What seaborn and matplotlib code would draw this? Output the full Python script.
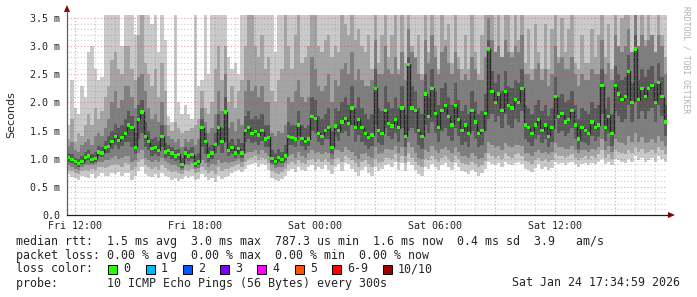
import numpy as np
import pandas as pd
import matplotlib
matplotlib.use("Agg")
import matplotlib.pyplot as plt
from matplotlib.patches import Rectangle, Polygon
import seaborn as sns

# ---------------- data (10-minute samples, Fri 11:35 -> Sat 17:35) ----------------
median = [
    1.02, 0.98, 0.95, 0.92, 0.95, 1.02,
    1.05, 0.98, 1.00, 1.12, 1.10, 1.20,
    1.22, 1.30, 1.40, 1.32, 1.38, 1.45,
    1.60, 1.55, 1.20, 1.70, 1.83, 1.40,
    1.30, 1.18, 1.20, 1.15, 1.40, 1.12,
    1.15, 1.10, 1.05, 1.08, 0.90, 1.10,
    1.05, 1.08, 0.92, 0.95, 1.55, 1.30,
    1.05, 1.10, 1.25, 1.56, 1.30, 1.83,
    1.15, 1.20, 1.10, 1.18, 1.10, 1.50,
    1.55, 1.45, 1.48, 1.42, 1.50, 1.35,
    1.38, 1.00, 0.95, 1.02, 0.98, 1.05,
    1.40, 1.38, 1.35, 1.60, 1.36, 1.30,
    1.35, 1.75, 1.72, 1.45, 1.40, 1.50,
    1.55, 1.20, 1.58, 1.50, 1.65, 1.72,
    1.62, 1.90, 1.55, 1.70, 1.55, 1.45,
    1.38, 1.42, 2.25, 1.50, 1.45, 1.85,
    1.62, 1.58, 1.70, 1.55, 1.90, 1.40,
    2.68, 1.90, 1.85, 1.50, 1.40, 2.15,
    1.75, 2.25, 1.80, 1.55, 1.85, 1.95,
    1.75, 1.60, 1.95, 1.70, 1.50, 1.60,
    1.45, 1.85, 1.65, 1.45, 1.50, 1.80,
    2.95, 2.20, 2.00, 2.15, 1.85, 2.20,
    1.95, 1.90, 2.05, 2.00, 2.25, 1.60,
    1.55, 1.45, 1.60, 1.70, 1.50, 1.60,
    1.40, 1.55, 2.10, 1.75, 1.80, 1.65,
    1.70, 1.85, 1.60, 1.35, 1.55, 1.50,
    1.45, 1.65, 1.55, 1.60, 2.30, 1.55,
    1.75, 1.45, 2.30, 2.15, 2.05, 2.10,
    2.55, 2.00, 2.95, 2.05, 2.25, 2.10,
    2.25, 2.30, 2.00, 2.35, 2.10, 1.65,
]

lo1 = [
    0.72, 0.68, 0.66, 0.62, 0.70, 0.68,
    0.65, 0.72, 0.66, 0.70, 0.74, 0.70,
    0.70, 0.74, 0.72, 0.76, 0.70, 0.74,
    0.75, 0.62, 0.70, 0.78, 0.85, 0.72,
    0.70, 0.68, 0.72, 0.66, 0.74, 0.70,
    0.68, 0.62, 0.66, 0.60, 0.64, 0.70,
    0.66, 0.70, 0.62, 0.64, 0.72, 0.68,
    0.62, 0.66, 0.58, 0.70, 0.64, 0.68,
    0.70, 0.74, 0.78, 0.80, 0.76, 0.82,
    0.88, 0.90, 0.92, 0.86, 0.90, 0.88,
    0.80, 0.65, 0.62, 0.60, 0.64, 0.70,
    0.78, 0.82, 0.76, 0.85, 0.80, 0.78,
    0.85, 0.88, 0.80, 0.86, 0.82, 0.88,
    0.80, 0.72, 0.85, 0.90, 0.78, 0.92,
    0.90, 0.82, 0.76, 0.70, 0.80, 0.85,
    0.75, 0.70, 0.85, 0.78, 0.82, 0.88,
    0.90, 0.85, 0.95, 0.80, 0.92, 0.78,
    0.95, 0.88, 0.80, 0.72, 0.70, 0.85,
    0.82, 0.90, 0.86, 0.80, 0.88, 0.92,
    0.85, 0.80, 0.92, 0.85, 0.78, 0.76,
    0.72, 0.80, 0.76, 0.70, 0.74, 0.82,
    0.95, 0.90, 0.88, 0.92, 0.85, 0.95,
    0.90, 0.88, 0.92, 0.95, 0.90, 0.82,
    0.80, 0.76, 0.84, 0.90, 0.82, 0.86,
    0.80, 0.84, 0.95, 0.90, 0.92, 0.88,
    0.92, 0.95, 0.90, 0.85, 0.90, 0.92,
    0.88, 0.92, 0.90, 0.95, 1.00, 0.90,
    0.95, 0.88, 1.00, 0.98, 0.95, 0.92,
    1.00, 0.95, 1.05, 0.98, 1.02, 0.95,
    0.98, 1.02, 0.95, 1.05, 1.00, 0.95,
]

lo2 = [
    0.80, 0.78, 0.75, 0.72, 0.78, 0.80,
    0.78, 0.82, 0.80, 0.85, 0.86, 0.84,
    0.85, 0.88, 0.90, 0.88, 0.86, 0.92,
    0.90, 0.80, 0.85, 0.95, 1.00, 0.88,
    0.85, 0.82, 0.85, 0.80, 0.88, 0.84,
    0.80, 0.76, 0.78, 0.74, 0.72, 0.80,
    0.78, 0.82, 0.74, 0.76, 0.85, 0.80,
    0.75, 0.78, 0.72, 0.85, 0.78, 0.82,
    0.82, 0.85, 0.88, 0.90, 0.86, 0.95,
    1.00, 1.02, 1.05, 0.98, 1.02, 1.00,
    0.92, 0.78, 0.74, 0.72, 0.76, 0.82,
    0.90, 0.95, 0.90, 0.98, 0.92, 0.90,
    0.98, 1.00, 0.95, 1.00, 0.95, 1.00,
    0.95, 0.88, 1.00, 1.02, 0.95, 1.05,
    1.02, 0.98, 0.92, 0.86, 0.95, 0.98,
    0.90, 0.86, 1.00, 0.92, 0.95, 1.02,
    1.02, 1.00, 1.08, 0.95, 1.05, 0.92,
    1.10, 1.02, 0.95, 0.88, 0.85, 1.00,
    0.98, 1.05, 1.00, 0.95, 1.02, 1.05,
    1.00, 0.95, 1.05, 1.00, 0.92, 0.90,
    0.88, 0.95, 0.90, 0.85, 0.88, 0.96,
    1.10, 1.05, 1.02, 1.05, 1.00, 1.10,
    1.05, 1.02, 1.08, 1.10, 1.05, 0.96,
    0.95, 0.90, 0.98, 1.02, 0.96, 1.00,
    0.95, 0.98, 1.10, 1.05, 1.05, 1.02,
    1.05, 1.08, 1.02, 0.98, 1.02, 1.05,
    1.00, 1.05, 1.02, 1.08, 1.15, 1.02,
    1.08, 1.00, 1.15, 1.12, 1.10, 1.08,
    1.15, 1.10, 1.20, 1.12, 1.18, 1.10,
    1.12, 1.15, 1.10, 1.20, 1.15, 1.08,
]

lo3 = [
    0.88, 0.85, 0.82, 0.80, 0.85, 0.88,
    0.88, 0.88, 0.90, 0.95, 0.95, 0.98,
    0.98, 1.02, 1.05, 1.00, 1.02, 1.05,
    1.05, 0.95, 0.98, 1.10, 1.15, 1.02,
    0.98, 0.95, 0.98, 0.95, 1.02, 0.96,
    0.92, 0.88, 0.88, 0.86, 0.80, 0.90,
    0.88, 0.92, 0.82, 0.84, 0.98, 0.92,
    0.85, 0.90, 0.88, 0.98, 0.92, 0.95,
    0.92, 0.95, 0.96, 1.00, 0.95, 1.10,
    1.12, 1.12, 1.15, 1.08, 1.15, 1.10,
    1.05, 0.88, 0.84, 0.85, 0.86, 0.92,
    1.05, 1.08, 1.02, 1.12, 1.05, 1.02,
    1.10, 1.15, 1.10, 1.12, 1.08, 1.12,
    1.10, 1.00, 1.15, 1.15, 1.12, 1.20,
    1.15, 1.12, 1.05, 1.00, 1.08, 1.10,
    1.05, 1.02, 1.20, 1.08, 1.10, 1.18,
    1.18, 1.15, 1.22, 1.10, 1.20, 1.05,
    1.30, 1.20, 1.10, 1.02, 1.00, 1.15,
    1.12, 1.22, 1.15, 1.10, 1.18, 1.20,
    1.15, 1.10, 1.20, 1.12, 1.05, 1.05,
    1.02, 1.10, 1.05, 1.00, 1.02, 1.10,
    1.30, 1.25, 1.20, 1.22, 1.15, 1.28,
    1.22, 1.20, 1.25, 1.25, 1.22, 1.10,
    1.10, 1.05, 1.12, 1.15, 1.10, 1.12,
    1.08, 1.12, 1.28, 1.20, 1.20, 1.18,
    1.18, 1.22, 1.15, 1.10, 1.15, 1.15,
    1.12, 1.18, 1.15, 1.20, 1.35, 1.15,
    1.22, 1.12, 1.35, 1.30, 1.28, 1.25,
    1.40, 1.30, 1.45, 1.30, 1.38, 1.28,
    1.30, 1.35, 1.28, 1.40, 1.32, 1.22,
]

lo4 = [
    0.95, 0.92, 0.88, 0.86, 0.90, 0.96,
    0.98, 0.93, 0.95, 1.04, 1.03, 1.10,
    1.10, 1.18, 1.25, 1.18, 1.22, 1.30,
    1.30, 1.20, 1.08, 1.35, 1.45, 1.20,
    1.15, 1.05, 1.08, 1.05, 1.20, 1.02,
    1.05, 1.00, 0.96, 0.98, 0.84, 1.00,
    0.96, 1.00, 0.86, 0.88, 1.20, 1.08,
    0.95, 1.00, 1.10, 1.25, 1.10, 1.30,
    1.05, 1.08, 1.02, 1.08, 1.02, 1.30,
    1.35, 1.28, 1.30, 1.25, 1.32, 1.20,
    1.20, 0.93, 0.88, 0.94, 0.92, 0.98,
    1.25, 1.25, 1.20, 1.40, 1.22, 1.15,
    1.22, 1.50, 1.45, 1.30, 1.25, 1.35,
    1.35, 1.08, 1.38, 1.32, 1.45, 1.50,
    1.40, 1.60, 1.30, 1.42, 1.30, 1.25,
    1.18, 1.22, 1.60, 1.28, 1.25, 1.55,
    1.40, 1.35, 1.45, 1.30, 1.55, 1.20,
    1.50, 1.55, 1.45, 1.25, 1.18, 1.60,
    1.45, 1.65, 1.45, 1.30, 1.50, 1.55,
    1.40, 1.32, 1.55, 1.40, 1.25, 1.30,
    1.20, 1.50, 1.35, 1.20, 1.25, 1.50,
    1.70, 1.80, 1.65, 1.75, 1.55, 1.80,
    1.60, 1.55, 1.70, 1.65, 1.85, 1.35,
    1.30, 1.22, 1.35, 1.42, 1.28, 1.35,
    1.20, 1.30, 1.70, 1.45, 1.50, 1.40,
    1.45, 1.55, 1.35, 1.18, 1.30, 1.28,
    1.25, 1.40, 1.32, 1.38, 1.80, 1.32,
    1.45, 1.22, 1.85, 1.75, 1.65, 1.70,
    1.95, 1.65, 2.00, 1.70, 1.85, 1.70,
    1.85, 1.90, 1.65, 1.95, 1.75, 1.40,
]

hi4 = [
    1.10, 1.08, 1.02, 1.00, 1.05, 1.12,
    1.15, 1.08, 1.12, 1.22, 1.20, 1.32,
    1.40, 1.50, 1.62, 1.55, 1.60, 1.70,
    1.85, 1.75, 1.45, 1.95, 2.05, 1.65,
    1.50, 1.35, 1.38, 1.32, 1.60, 1.28,
    1.25, 1.20, 1.15, 1.18, 1.02, 1.20,
    1.15, 1.20, 1.05, 1.10, 1.70, 1.45,
    1.20, 1.25, 1.45, 1.80, 1.55, 2.10,
    1.30, 1.35, 1.25, 1.35, 1.28, 1.75,
    1.85, 1.70, 1.75, 1.70, 1.80, 1.60,
    1.60, 1.15, 1.10, 1.18, 1.12, 1.25,
    1.65, 1.60, 1.60, 1.85, 1.60, 1.55,
    1.60, 2.10, 2.05, 1.75, 1.70, 1.80,
    1.90, 1.50, 1.90, 1.85, 2.00, 2.10,
    1.95, 2.30, 1.90, 2.10, 1.90, 1.80,
    1.70, 1.80, 2.60, 1.90, 1.85, 2.30,
    2.00, 1.90, 2.10, 1.90, 2.30, 1.80,
    2.80, 2.30, 2.20, 1.90, 1.80, 2.50,
    2.10, 2.60, 2.20, 1.95, 2.25, 2.35,
    2.10, 1.95, 2.35, 2.05, 1.85, 1.95,
    1.80, 2.20, 2.00, 1.80, 1.85, 2.15,
    3.10, 2.55, 2.35, 2.50, 2.20, 2.55,
    2.30, 2.25, 2.40, 2.35, 2.60, 1.95,
    1.90, 1.80, 1.95, 2.05, 1.85, 1.95,
    1.75, 1.90, 2.45, 2.10, 2.15, 2.00,
    2.05, 2.20, 1.95, 1.70, 1.90, 1.85,
    1.80, 2.00, 1.90, 1.95, 2.60, 1.90,
    2.10, 1.80, 2.65, 2.50, 2.40, 2.45,
    2.85, 2.35, 3.20, 2.40, 2.60, 2.45,
    2.60, 2.65, 2.35, 2.70, 2.45, 1.95,
]

hi3 = [
    1.22, 1.30, 1.15, 1.12, 1.25, 1.30,
    1.35, 1.25, 1.40, 1.45, 1.40, 1.55,
    1.70, 2.00, 2.20, 1.90, 2.05, 2.30,
    2.30, 2.10, 1.90, 2.45, 2.50, 2.20,
    1.90, 1.70, 1.80, 1.65, 2.00, 1.60,
    1.40, 1.35, 1.30, 1.35, 1.20, 1.35,
    1.30, 1.35, 1.25, 1.35, 1.90, 1.65,
    1.45, 1.55, 1.80, 2.20, 1.85, 2.50,
    1.55, 1.65, 1.50, 1.70, 1.60, 2.20,
    2.40, 2.20, 2.30, 2.10, 2.30, 2.00,
    2.00, 1.45, 1.40, 1.50, 1.45, 1.60,
    2.10, 2.00, 2.20, 2.40, 2.10, 2.00,
    2.10, 2.80, 2.60, 2.30, 2.20, 2.30,
    2.50, 2.00, 2.40, 2.30, 2.60, 2.70,
    2.50, 2.90, 2.40, 2.60, 2.40, 2.30,
    2.30, 2.40, 3.10, 2.50, 2.50, 3.00,
    2.60, 2.50, 2.80, 2.50, 2.90, 2.40,
    3.30, 2.90, 2.80, 2.50, 2.40, 3.10,
    2.70, 3.20, 2.80, 2.50, 2.90, 3.00,
    2.70, 2.50, 2.90, 2.60, 2.40, 2.50,
    2.40, 2.80, 2.60, 2.40, 2.40, 2.80,
    3.50, 3.10, 2.90, 3.00, 2.80, 3.10,
    2.90, 2.80, 3.00, 2.90, 3.20, 2.50,
    2.50, 2.40, 2.60, 2.70, 2.40, 2.60,
    2.30, 2.50, 3.00, 2.70, 2.80, 2.60,
    2.60, 2.80, 2.50, 2.30, 2.50, 2.40,
    2.40, 2.60, 2.50, 2.50, 3.10, 2.50,
    2.70, 2.40, 3.20, 3.00, 2.90, 3.00,
    3.30, 2.90, 3.60, 3.00, 3.20, 3.00,
    3.10, 3.20, 2.90, 3.20, 3.00, 2.50,
]

hi2 = [
    1.35, 1.70, 1.30, 1.45, 1.40, 1.60,
    1.80, 1.60, 1.90, 1.70, 1.85, 2.10,
    2.30, 2.75, 2.90, 2.60, 2.50, 3.00,
    3.00, 2.60, 2.40, 3.20, 3.60, 2.70,
    2.50, 2.30, 2.60, 2.10, 2.70, 2.20,
    1.60, 1.50, 1.65, 1.55, 1.45, 1.50,
    1.50, 1.55, 1.60, 1.70, 2.20, 1.90,
    1.80, 2.00, 2.60, 3.00, 2.40, 3.00,
    2.00, 2.30, 1.90, 2.20, 2.40, 3.00,
    3.60, 3.60, 3.00, 2.80, 3.20, 2.60,
    2.80, 2.20, 2.00, 2.40, 2.60, 3.60,
    3.00, 2.60, 3.20, 3.60, 2.70, 2.80,
    3.00, 3.60, 3.60, 3.00, 2.90, 3.10,
    3.20, 2.80, 3.00, 2.90, 3.60, 3.40,
    3.20, 3.60, 3.10, 3.30, 3.00, 2.90,
    3.20, 2.60, 3.60, 2.70, 3.20, 3.60,
    2.80, 3.20, 3.60, 2.60, 3.60, 2.70,
    3.60, 3.00, 2.80, 3.20, 2.50, 3.60,
    2.90, 3.60, 3.00, 2.60, 3.60, 3.10,
    3.40, 2.70, 3.60, 2.80, 2.60, 3.20,
    2.60, 3.60, 2.90, 2.50, 3.20, 3.60,
    3.60, 3.60, 2.90, 3.60, 2.80, 3.60,
    3.60, 2.90, 3.60, 3.10, 3.60, 2.70,
    3.30, 2.60, 3.40, 2.90, 2.60, 3.40,
    2.60, 3.30, 3.60, 2.80, 3.50, 2.90,
    3.30, 3.60, 2.70, 2.60, 3.20, 2.70,
    2.70, 3.30, 2.80, 3.20, 3.60, 2.80,
    3.40, 2.60, 3.60, 3.00, 3.50, 3.60,
    3.60, 2.90, 3.60, 3.00, 3.60, 3.10,
    3.60, 3.00, 2.90, 3.60, 3.20, 2.80,
]

hi1 = [
    1.60, 2.40, 1.90, 1.80, 2.30, 2.10,
    2.90, 3.00, 2.60, 2.40, 2.45, 3.60,
    3.60, 3.60, 3.60, 3.60, 3.00, 3.60,
    3.60, 3.60, 3.20, 3.60, 3.60, 3.60,
    3.60, 3.40, 3.60, 2.90, 3.60, 3.10,
    1.75, 1.65, 3.60, 2.00, 1.80, 1.95,
    1.80, 1.70, 3.60, 2.30, 2.40, 3.60,
    2.50, 3.60, 3.60, 3.60, 3.60, 3.60,
    2.80, 2.60, 2.70, 2.50, 3.60, 3.60,
    3.60, 3.60, 3.60, 3.60, 3.60, 3.60,
    3.60, 3.60, 2.90, 3.60, 3.60, 3.60,
    3.60, 3.60, 3.60, 3.60, 3.60, 3.60,
    3.60, 3.60, 3.60, 3.60, 3.60, 3.60,
    3.60, 3.60, 3.60, 3.60, 3.60, 3.60,
    3.60, 3.60, 3.60, 3.60, 3.60, 3.60,
    3.60, 3.60, 3.60, 3.60, 3.60, 3.60,
    3.60, 3.60, 3.60, 3.60, 3.60, 3.60,
    3.60, 3.60, 3.60, 3.60, 3.60, 3.60,
    3.60, 3.60, 3.60, 3.60, 3.60, 3.60,
    3.60, 3.60, 3.60, 3.60, 3.60, 3.60,
    3.60, 3.60, 3.60, 3.60, 3.60, 3.60,
    3.60, 3.60, 3.60, 3.60, 3.60, 3.60,
    3.60, 3.60, 3.60, 3.60, 3.60, 3.60,
    3.60, 3.60, 3.60, 3.60, 3.60, 3.60,
    3.60, 3.60, 3.60, 3.60, 3.60, 3.60,
    3.60, 3.60, 3.60, 3.60, 3.60, 3.60,
    3.60, 3.60, 3.60, 3.60, 3.60, 3.60,
    3.60, 3.60, 3.60, 3.60, 3.60, 3.60,
    3.60, 3.60, 3.60, 3.60, 3.60, 3.60,
    3.60, 3.60, 3.60, 3.60, 3.60, 3.60,
]

tick_labels = ["Fri 12:00", "Fri 18:00", "Sat 00:00", "Sat 06:00", "Sat 12:00"]
ytick_values = [0.0, 0.5, 1.0, 1.5, 2.0, 2.5, 3.0, 3.5]
ytick_labels = ["0.0", "0.5 m", "1.0 m", "1.5 m", "2.0 m", "2.5 m", "3.0 m", "3.5 m"]

loss_labels = ["0", "1", "2", "3", "4", "5", "6-9", "10/10"]
loss_colors = ["#26ff00", "#00b8ff", "#0059ff", "#7e00ff", "#ff00ff", "#ff5500", "#ff0000", "#a10000"]

stats_line = "median rtt:  1.5 ms avg  3.0 ms max  787.3 us min  1.6 ms now  0.4 ms sd  3.9   am/s"
loss_line = "packet loss: 0.00 % avg  0.00 % max  0.00 % min  0.00 % now"
probe_line = "probe:       10 ICMP Echo Pings (56 Bytes) every 300s"
date_text = "Sat Jan 24 17:34:59 2026"

# ---------------- figure ----------------
sns.set_theme(style="white")
plt.rcParams["font.family"] = ["DejaVu Sans Mono", "DejaVu Sans"]

W, H = 697, 297
fig = plt.figure(figsize=(W / 100, H / 100), dpi=100)
fig.patch.set_facecolor("white")
ax = fig.add_axes([67 / W, 1 - 215 / H, 600 / W, 200 / H])
ax.set_facecolor("white")

step = 1 / 6.0
n = len(median)
t = np.arange(n) * step
edges = np.arange(n + 1) * step

def ext(a):
    a = list(a)
    return np.array(a + [a[-1]])

bands = [(lo1, hi1, "#cacaca"), (lo2, hi2, "#a4a4a4"),
         (lo3, hi3, "#7e7e7e"), (lo4, hi4, "#585858")]
for lo, hi, col in bands:
    ax.fill_between(edges, ext(lo), ext(hi), step="post", color=col, lw=0, zorder=1)

df = pd.DataFrame({"t": t, "median": median})
df_step = pd.DataFrame({"t": edges, "median": ext(median)})
sns.lineplot(data=df_step, x="t", y="median", ax=ax, drawstyle="steps-post",
             color="#262626", lw=1.0, zorder=3, legend=False)
sns.scatterplot(data=df.assign(tc=df["t"] + step / 2), x="tc", y="median", ax=ax,
                marker="s", s=5.5, color="#26ff00", edgecolor="none", linewidth=0,
                zorder=4, legend=False)

x0 = 25 / 60.0  # Fri 12:00 relative to Fri 11:35
ax.set_xlim(0, 30)
ax.set_ylim(0, 3.553)

# grid (drawn over the smoke like rrdtool)
MAJ = (0.87, 0.31, 0.31, 0.55)
MIN = (0.56, 0.56, 0.56, 0.45)
for k in range(31):
    xv = x0 + k
    if xv > 30:
        break
    ax.axvline(xv, color=MAJ if k % 3 == 0 else MIN, lw=0.8, ls=(0, (1, 2)), zorder=5)
for j in range(1, 36):
    yv = j * 0.1
    ax.axhline(yv, color=MAJ if j % 5 == 0 else MIN, lw=0.8, ls=(0, (1, 2)), zorder=5)

ax.set_xticks([x0 + 6 * k for k in range(5)])
ax.set_xticklabels(tick_labels, fontsize=7.2, family="DejaVu Sans Mono")
ax.set_yticks(ytick_values)
ax.set_yticklabels(ytick_labels, fontsize=7.2, family="DejaVu Sans Mono")
ax.tick_params(axis="both", length=0, pad=5)
ax.tick_params(axis="x", pad=4)
ax.set_xlabel("")
ax.set_ylabel("Seconds", fontsize=8, family="DejaVu Sans", labelpad=10)
for s in ["top", "right"]:
    ax.spines[s].set_visible(False)
ax.spines["left"].set_color("#606060")
ax.spines["left"].set_linewidth(0.9)
ax.spines["bottom"].set_color("#202020")
ax.spines["bottom"].set_linewidth(0.9)
ax.spines["left"].set_zorder(6)
ax.spines["bottom"].set_zorder(6)

# axis extensions with arrows (figure pixel coords)
def fx(px):
    return px / W

def fy(py):
    return 1 - py / H

fig.add_artist(plt.Line2D([fx(667), fx(670)], [fy(215), fy(215)], color="#202020", lw=0.9))
fig.add_artist(Polygon([[fx(668), fy(212)], [fx(675), fy(215)], [fx(668), fy(218)]],
                       closed=True, color="#8b0000", lw=0))
fig.add_artist(plt.Line2D([fx(67), fx(67)], [fy(15), fy(11)], color="#606060", lw=0.9))
fig.add_artist(Polygon([[fx(64), fy(12)], [fx(67), fy(5)], [fx(70), fy(12)]],
                       closed=True, color="#8b0000", lw=0))

# watermark
fig.text(fx(686), fy(60), "RRDTOOL / TOBI OETIKER", rotation=-90, ha="center", va="center",
         fontsize=5.8, color="#b0b0b0", family="DejaVu Sans Mono")

# legend lines
fs = 8.4
fig.text(fx(16), fy(241), stats_line, ha="left", va="center", fontsize=fs, family="DejaVu Sans Mono")
fig.text(fx(16), fy(255), loss_line, ha="left", va="center", fontsize=fs, family="DejaVu Sans Mono")
fig.text(fx(16), fy(269), "loss color:", ha="left", va="center", fontsize=fs, family="DejaVu Sans Mono")
fig.text(fx(16), fy(283), probe_line, ha="left", va="center", fontsize=fs, family="DejaVu Sans Mono")
fig.text(fx(680), fy(283), date_text, ha="right", va="center", fontsize=fs, family="DejaVu Sans Mono")

box_x = [108, 146, 183, 220, 257, 295, 332, 383]
for bx, lab, col in zip(box_x, loss_labels, loss_colors):
    fig.add_artist(Rectangle((fx(bx), fy(273.5)), 9 / W, 9 / H, facecolor=col,
                             edgecolor="#000000", lw=0.7))
    fig.text(fx(bx + 15), fy(269), lab, ha="left", va="center", fontsize=fs, family="DejaVu Sans Mono")

fig.savefig("out.png", dpi=100, facecolor="white")
